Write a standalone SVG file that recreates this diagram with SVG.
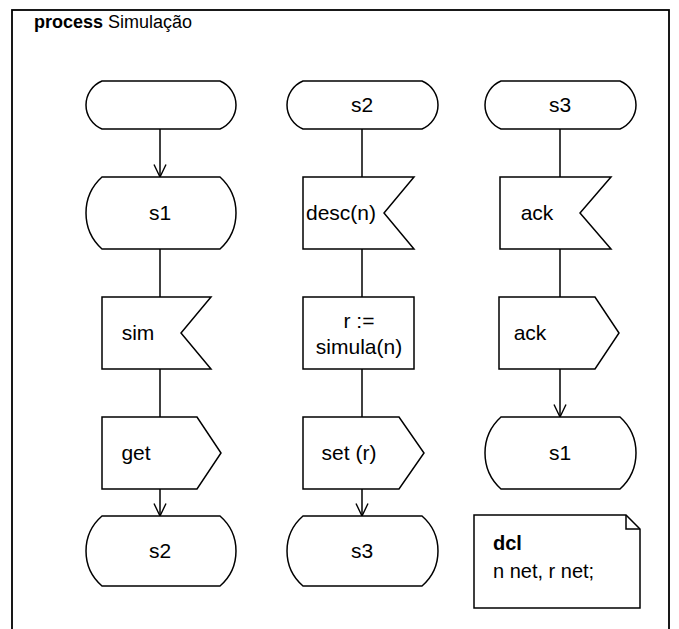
<svg xmlns="http://www.w3.org/2000/svg" width="679" height="629" viewBox="0 0 679 629">
  <defs>
    <marker id="open-arrow" markerWidth="14" markerHeight="14" refX="13" refY="7" orient="auto" markerUnits="userSpaceOnUse" viewBox="0 0 14 14">
      <path d="M0.5,1 L13,7 L0.5,13" fill="none" stroke="#000" stroke-width="1.4"/>
    </marker>
  </defs>
  <style>
    .shape { fill: #fff; stroke: #000; stroke-width: 1.5; }
    .frame { fill: #fff; stroke: #000; stroke-width: 1.8; }
    .conn { stroke: #000; stroke-width: 1.5; fill: none; }
    .lbl { font-family: "Liberation Sans", Arial, sans-serif; font-size: 21px; fill: #000; text-anchor: middle; }
    .title { font-family: "Liberation Sans", Arial, sans-serif; font-size: 18px; fill: #000; }
    .note { font-family: "Liberation Sans", Arial, sans-serif; font-size: 20px; fill: #000; }
    .kw { font-weight: bold; }
  </style>

  <!-- process frame -->
  <rect class="frame" x="12" y="10" width="657" height="640"/>
  <text class="title" x="34" y="28"><tspan class="kw">process</tspan> Simulação</text>

  <!-- connectors -->
  <g id="connectors">
    <line class="conn" x1="160" y1="129" x2="160" y2="177" marker-end="url(#open-arrow)"/>
    <line class="conn" x1="160" y1="249" x2="160" y2="297"/>
    <line class="conn" x1="160" y1="369" x2="160" y2="417"/>
    <line class="conn" x1="160" y1="489" x2="160" y2="516" marker-end="url(#open-arrow)"/>

    <line class="conn" x1="362" y1="129" x2="362" y2="177"/>
    <line class="conn" x1="362" y1="249" x2="362" y2="297"/>
    <line class="conn" x1="362" y1="369" x2="362" y2="417"/>
    <line class="conn" x1="362" y1="489" x2="362" y2="516" marker-end="url(#open-arrow)"/>

    <line class="conn" x1="560" y1="129" x2="560" y2="177"/>
    <line class="conn" x1="560" y1="249" x2="560" y2="297"/>
    <line class="conn" x1="560" y1="369" x2="560" y2="417" marker-end="url(#open-arrow)"/>
  </g>

  <!-- column 1 -->
  <g id="start">
    <path class="shape" d="M102,81 L220,81 A26,26 0 0 1 220,129 L102,129 A26,26 0 0 1 102,81 Z"/>
  </g>
  <g id="state-s1-a">
    <path class="shape" d="M102,177 L220,177 A48.5,48.5 0 0 1 220,249 L102,249 A48.5,48.5 0 0 1 102,177 Z"/>
    <text class="lbl" x="160" y="220">s1</text>
  </g>
  <g id="input-sim">
    <path class="shape" d="M102,297 L211,297 L181,333 L211,369 L102,369 Z"/>
    <text class="lbl" x="138" y="340">sim</text>
  </g>
  <g id="output-get">
    <path class="shape" d="M102,417 L197,417 L221,453 L197,489 L102,489 Z"/>
    <text class="lbl" x="136" y="460">get</text>
  </g>
  <g id="state-s2-b">
    <path class="shape" d="M102,516 L220,516 A46.3,46.3 0 0 1 220,586 L102,586 A46.3,46.3 0 0 1 102,516 Z"/>
    <text class="lbl" x="160" y="558">s2</text>
  </g>

  <!-- column 2 -->
  <g id="state-s2-a">
    <path class="shape" d="M303,81 L422,81 A26,26 0 0 1 422,129 L303,129 A26,26 0 0 1 303,81 Z"/>
    <text class="lbl" x="362" y="112">s2</text>
  </g>
  <g id="input-desc">
    <path class="shape" d="M303,177 L414,177 L384,213 L414,249 L303,249 Z"/>
    <text class="lbl" x="341" y="220">desc(n)</text>
  </g>
  <g id="task-simula">
    <rect class="shape" x="303" y="297" width="111" height="72"/>
    <text class="lbl" x="359" y="328">r :=</text>
    <text class="lbl" x="359" y="354">simula(n)</text>
  </g>
  <g id="output-set">
    <path class="shape" d="M303,417 L399,417 L424,453 L399,489 L303,489 Z"/>
    <text class="lbl" x="349" y="460">set (r)</text>
  </g>
  <g id="state-s3-b">
    <path class="shape" d="M303,516 L422,516 A46.3,46.3 0 0 1 422,586 L303,586 A46.3,46.3 0 0 1 303,516 Z"/>
    <text class="lbl" x="362" y="558">s3</text>
  </g>

  <!-- column 3 -->
  <g id="state-s3-a">
    <path class="shape" d="M501,81 L620,81 A26,26 0 0 1 620,129 L501,129 A26,26 0 0 1 501,81 Z"/>
    <text class="lbl" x="560" y="112">s3</text>
  </g>
  <g id="input-ack">
    <path class="shape" d="M500,177 L611,177 L580,213 L611,249 L500,249 Z"/>
    <text class="lbl" x="537" y="220">ack</text>
  </g>
  <g id="output-ack">
    <path class="shape" d="M499,297 L595,297 L619,333 L595,369 L499,369 Z"/>
    <text class="lbl" x="530" y="340">ack</text>
  </g>
  <g id="state-s1-b">
    <path class="shape" d="M501,417 L620,417 A48.5,48.5 0 0 1 620,489 L501,489 A48.5,48.5 0 0 1 501,417 Z"/>
    <text class="lbl" x="560" y="460">s1</text>
  </g>

  <!-- declarations -->
  <g id="dcl-note">
    <path class="shape" d="M474,515 L626,515 L640,529 L640,608 L474,608 Z"/>
    <path class="conn" d="M626,515 L626,529 L640,529"/>
    <text class="note kw" x="493" y="550">dcl</text>
    <text class="note" x="493" y="578">n net, r net;</text>
  </g>
</svg>
